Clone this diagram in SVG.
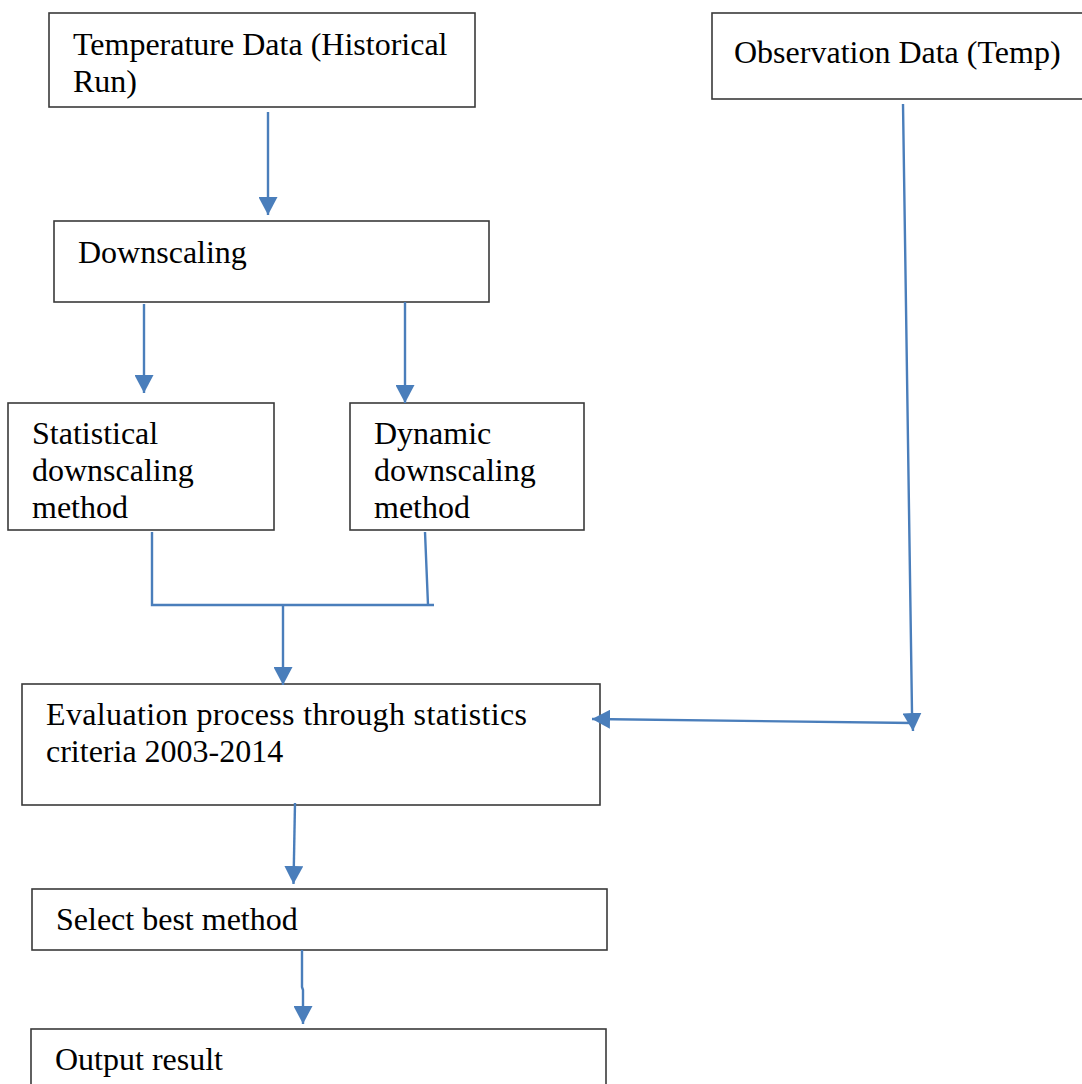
<svg xmlns="http://www.w3.org/2000/svg" width="1082" height="1084" viewBox="0 0 1082 1084">
<style>
.box{fill:#fff;stroke:#3a3a3a;stroke-width:1.6}
.t{font-family:"Liberation Serif","Times New Roman",serif;font-size:32px;fill:#000}
.c{fill:none;stroke:#4A7EBB;stroke-width:2.4}
</style>
<defs>
<marker id="ah" viewBox="0 0 18 19" refX="18" refY="9.5" markerWidth="18" markerHeight="19" markerUnits="userSpaceOnUse" orient="auto">
<path d="M0,0 L18,9.5 L0,19 z" fill="#4A7EBB"/>
</marker>
</defs>
<rect width="1082" height="1084" fill="#fff"/>
<g id="n-temp"><rect class="box" x="49" y="13" width="426" height="94"/><text class="t" x="73" y="55">Temperature Data (Historical</text><text class="t" x="73" y="92">Run)</text></g>
<g id="n-obs"><rect class="box" x="712" y="13" width="372" height="86"/><text class="t" x="734" y="63">Observation Data (Temp)</text></g>
<g id="n-down"><rect class="box" x="54" y="221" width="435" height="81"/><text class="t" x="78" y="263">Downscaling</text></g>
<g id="n-stat"><rect class="box" x="8" y="403" width="266" height="127"/><text class="t" x="32" y="444">Statistical</text><text class="t" x="32" y="481">downscaling</text><text class="t" x="32" y="518">method</text></g>
<g id="n-dyn"><rect class="box" x="350" y="403" width="234" height="127"/><text class="t" x="374" y="444">Dynamic</text><text class="t" x="374" y="481">downscaling</text><text class="t" x="374" y="518">method</text></g>
<g id="n-eval"><rect class="box" x="22" y="684" width="578" height="121"/><text class="t" x="46" y="725" textLength="481" lengthAdjust="spacing">Evaluation process through statistics</text><text class="t" x="46" y="762">criteria 2003-2014</text></g>
<g id="n-select"><rect class="box" x="32" y="889" width="575" height="61"/><text class="t" x="56" y="930">Select best method</text></g>
<g id="n-output"><rect class="box" x="31" y="1029" width="575" height="70"/><text class="t" x="55" y="1070">Output result</text></g>
<g id="connectors">
<path class="c" d="M268,112 L268,215" marker-end="url(#ah)"/>
<path class="c" d="M144,304 L144,393" marker-end="url(#ah)"/>
<path class="c" d="M405,302 L405,403" marker-end="url(#ah)"/>
<path class="c" d="M152,532 L152,605 L434,605 M425,532 L428,605"/>
<path class="c" d="M283,605 L283,685" marker-end="url(#ah)"/>
<path class="c" d="M903,104 L912,712 L913,731" marker-end="url(#ah)"/>
<path class="c" d="M913,723 L592,719" marker-end="url(#ah)"/>
<path class="c" d="M295,803 L293.5,884" marker-end="url(#ah)"/>
<path class="c" d="M302,950 L302,987 L303,990 L303,1024" marker-end="url(#ah)"/>
</g>
</svg>
